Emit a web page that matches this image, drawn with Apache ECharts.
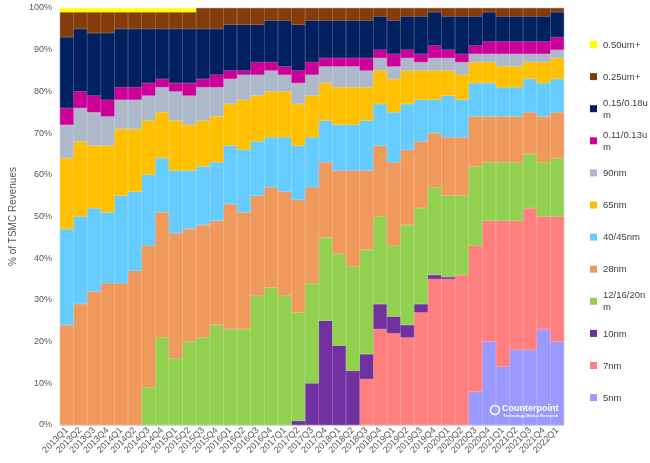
<!DOCTYPE html>
<html>
<head>
<meta charset="utf-8">
<script src="https://cdn.jsdelivr.net/npm/echarts@6/dist/echarts.min.js"></script>
<style>
  html, body { margin: 0; padding: 0; background: #fff; }
  #chart { width: 650px; height: 463px; }
</style>
</head>
<body>
<div id="chart"></div>
<script>
// quarters 2013Q1 .. 2022Q1
var quarters = [];
for (var yr = 2013; yr <= 2022; yr++) {
  for (var q = 1; q <= 4; q++) {
    if (yr === 2022 && q > 1) break;
    quarters.push(yr + "Q" + q);
  }
}

// share of revenue per node (%), bottom of stack first
var nm5 = [0,0,0,0,0,0,0,0,0,0,0,0,0,0,0,0,0,0,0,0,0,0,0,0,0,0,0,0,0,0,8,20,14,18,18,23,20];
var nm7 = [0,0,0,0,0,0,0,0,0,0,0,0,0,0,0,0,0,0,0,0,0,0,11,23,22,21,27,35,35,36,35,29,35,31,34,27,30];
var nm10 = [0,0,0,0,0,0,0,0,0,0,0,0,0,0,0,0,0,1,10,25,19,13,6,6,4,3,2,1,0.5,0,0,0,0,0,0,0,0];
var nm16 = [0,0,0,0,0,0,9,21,16,20,21,24,23,23,31,33,31,26,24,20,22,25,25,21,17,24,23,21,19.5,19,19,14,14,14,13,13,14];
var nm28 = [24,29,32,34,34,37,34,30,30,27,27,25,30,28,24,24,25,27,23,18,20,23,19,17,20,18,16,13,14,14,12,11,11,11,10,11,11];
var nm40 = [23,21,20,17,21,19,17,13,15,14,14,14,14,15,13,12,13,13,12,10,11,11,12,10,12,11,10,8,10,9,8,8,7,7,8,8,8];
var nm65 = [17,18,15,16,16,15,13,11,12,11,11,11,10,12,11,11,11,10,10,9,9,9,8,8,8,8,7,7,6,6,5,5,5,5,4,5,5];
var nm90 = [8,8,8,7,7,7,6,6,7,7,8,7,6,6,5,5,4,5,5,4,5,5,4,3,3,3,2,3,3,3,2,2,3,3,2,2,2];
var um011 = [4,4,4,4,3,3,3,2,2,3,2,3,2,1,3,2,2,3,3,2,2,2,3,2,3,2,2,3,2,2,2,3,3,3,3,3,3];
var um015 = [17,15,15,16,14,14,13,12,13,13,12,11,11,11,9,10,11,11,10,9,9,9,9,8,8,8,9,8,8,9,7,7,6,6,6,6,6];
var um025 = [6,4,5,5,4,4,4,4,4,4,5,5,4,4,4,3,3,4,3,3,3,3,3,2,3,2,2,1,2,2,2,1,2,2,2,2,1];
var um050 = [1,1,1,1,1,1,1,1,1,1,0,0,0,0,0,0,0,0,0,0,0,0,0,0,0,0,0,0,0,0,0,0,0,0,0,0,0];

var seriesNames = ["5nm", "7nm", "10nm", "12/16/20nm", "28nm", "40/45nm", "65nm", "90nm", "0.11/0.13um", "0.15/0.18um", "0.25um+", "0.50um+"];
var legendLabels = ["5nm", "7nm", "10nm", "12/16/20n\nm", "28nm", "40/45nm", "65nm", "90nm", "0.11/0.13u\nm", "0.15/0.18u\nm", "0.25um+", "0.50um+"];
var seriesData = [nm5, nm7, nm10, nm16, nm28, nm40, nm65, nm90, um011, um015, um025, um050];
var colors = ["#9999FF", "#FF7F7F", "#7030A0", "#92D050", "#F0995C", "#66CCFF", "#FFC000", "#ADB9CA", "#CC0099", "#002060", "#843C0C", "#FFFF00"];

(function () {
  var myChart = echarts.init(document.getElementById("chart"));

  var series = seriesData.map(function (d, i) {
    return {
      name: seriesNames[i],
      type: "bar",
      stack: "total",
      barCategoryGap: 0,
      // thin same-colour border hides the seams between neighbouring bars
      itemStyle: { color: colors[i], borderColor: colors[i], borderWidth: 0.6 },
      // zero shares are left empty so their borders do not show
      data: d.map(function (v) { return v === 0 ? "-" : v; })
    };
  });

  // legend drawn by hand so the wrapped labels sit like the original
  var legendItems = [];
  for (var i = 0; i < seriesNames.length; i++) {
    var k = seriesNames.length - 1 - i; // top item is the top of the stack
    var y = 45 + i * 32.1;
    legendItems.push({
      type: "rect", z: 100,
      shape: { x: 590, y: y - 4, width: 7, height: 7 },
      style: { fill: colors[k] }
    });
    legendItems.push({
      type: "text", z: 100,
      x: 603,
      y: y,
      style: {
        text: legendLabels[k],
        fill: "#404040",
        font: "9.5px Liberation Sans, Arial",
        verticalAlign: "middle",
        lineHeight: 12
      }
    });
  }
  legendItems.push({
    type: "text", x: 502, y: 404, z: 100,
    style: { text: "Counterpoint", fill: "#ffffff", font: "bold 9px Liberation Sans, Arial" }
  });
  legendItems.push({
    type: "text", x: 503, y: 414, z: 100,
    style: { text: "Technology Market Research", fill: "#ffffff", font: "bold 4px Liberation Sans, Arial" }
  });
  legendItems.push({
    type: "circle", z: 100, shape: { cx: 495, cy: 410, r: 4.5 },
    style: { fill: "none", stroke: "#ffffff", lineWidth: 1.6 }
  });

  var option = {
    animation: false,
    grid: { left: 49, right: 86, top: 8, bottom: 38 },
    xAxis: {
      type: "category",
      data: quarters,
      axisTick: { show: false },
      axisLine: { lineStyle: { color: "#d9d9d9" } },
      axisLabel: { color: "#595959", fontSize: 9, rotate: 45, interval: 0, margin: 4 }
    },
    yAxis: {
      type: "value",
      min: 0,
      max: 100,
      interval: 10,
      name: "% of TSMC Revenues",
      nameLocation: "middle",
      nameGap: 30,
      nameTextStyle: { color: "#595959", fontSize: 10 },
      axisLabel: { color: "#595959", fontSize: 9, formatter: "{value}%" },
      splitLine: { show: false }
    },
    series: series,
    graphic: { elements: legendItems }
  };

  myChart.setOption(option);
})();
</script>
</body>
</html>
